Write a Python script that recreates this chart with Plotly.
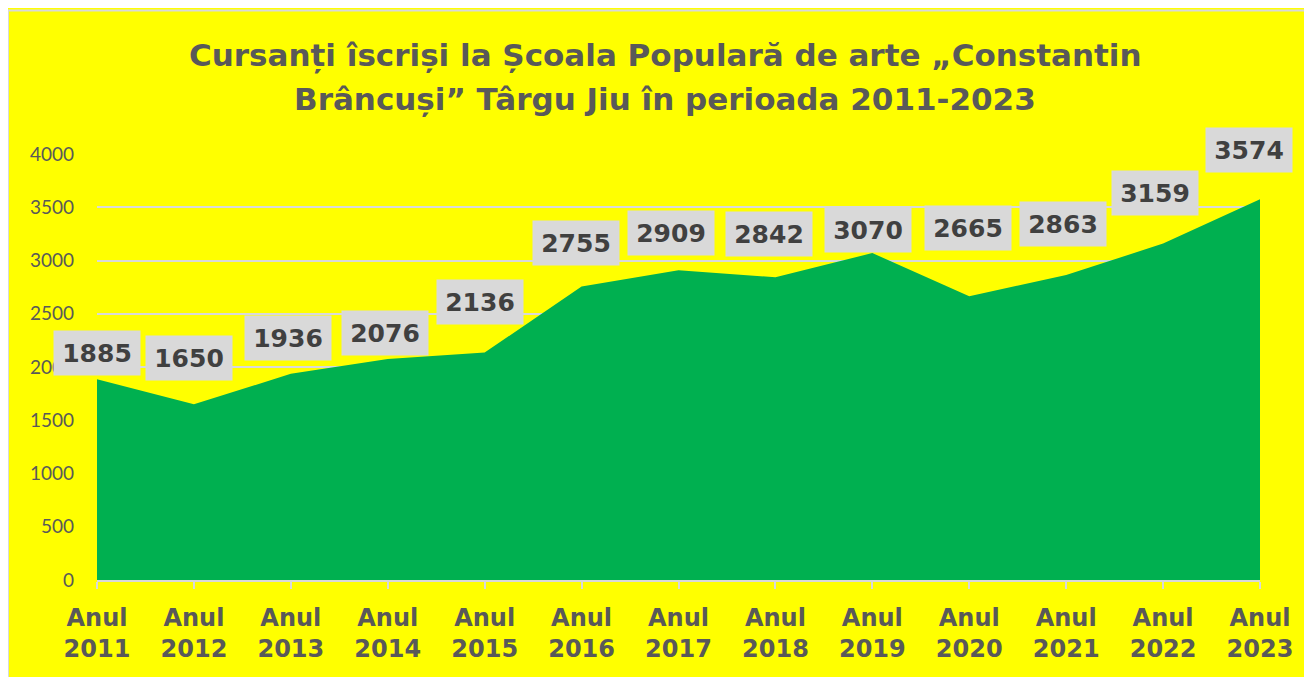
import plotly.graph_objects as go

years = ["2011", "2012", "2013", "2014", "2015", "2016", "2017",
         "2018", "2019", "2020", "2021", "2022", "2023"]
students = [1885, 1650, 1936, 2076, 2136, 2755, 2909, 2842, 3070, 2665, 2863, 3159, 3574]
y_ticks = [0, 500, 1000, 1500, 2000, 2500, 3000, 3500, 4000]
title_lines = ["Cursanți îscriși la Școala Populară de arte „Constantin",
               "Brâncuși” Târgu Jiu în perioada 2011-2023"]

categories = [f"Anul<br>{y}" for y in years]

# label offsets in pixels (manual placement as in the reference)
label_dy = [26, 46, 36, 26, 51, 44, 37, 43, 23, 68, 51, 51, 49]
label_dx = [0, -5, -3, -3, -5, -6, -8, -6, -4, -1, -3, -8, -11]

GREY = "#595959"
BOLD_FONT = "DejaVu Sans, Arial"
fig = go.Figure()
fig.add_trace(go.Scatter(
    x=categories, y=students, mode="lines", fill="tozeroy",
    fillcolor="#00B050", line=dict(color="#00B050", width=0),
    hoverinfo="skip", showlegend=False, cliponaxis=False,
))

for c, v, dy, dx in zip(categories, students, label_dy, label_dx):
    fig.add_annotation(
        x=c, y=v, text=f"<b>{v}</b>", showarrow=False,
        yshift=dy, xshift=dx, bgcolor="#D9D9D9", width=86, height=44,
        borderpad=0, align="center", valign="middle",
        font=dict(family=BOLD_FONT, size=25, color="#404040"),
    )

# page body margin is 8px; figure coordinates below are relative to figure
W, H = 1312, 677
L, R, T, B = 89, 60, 146, 105
pw, ph = W - L - R, H - T - B

def px_to_paper_x(px):
    return (px - L) / pw

def px_to_paper_y(py):
    return (H - B - py) / ph

# title, two centred lines
for line, cy in zip(title_lines, [47, 91]):
    fig.add_annotation(
        x=px_to_paper_x(657), y=px_to_paper_y(cy), xref="paper", yref="paper",
        text=f"<b>{line}</b>", showarrow=False, xanchor="center", yanchor="middle",
        font=dict(family=BOLD_FONT, size=31, color=GREY),
    )

# thin light frame on top/left edges of the chart
fig.add_shape(type="line", xref="paper", yref="paper",
              x0=px_to_paper_x(0), x1=px_to_paper_x(0),
              y0=px_to_paper_y(H), y1=px_to_paper_y(2),
              line=dict(color="#D9D9D9", width=2), layer="above")
fig.add_shape(type="line", xref="paper", yref="paper",
              x0=px_to_paper_x(0), x1=px_to_paper_x(W),
              y0=px_to_paper_y(2.5), y1=px_to_paper_y(2.5),
              line=dict(color="#D9D9D9", width=2), layer="above")

fig.update_layout(
    width=W, height=H,
    margin=dict(l=L, r=R, t=T, b=B),
    paper_bgcolor="#FFFF00", plot_bgcolor="#FFFF00",
    xaxis=dict(
        type="category", range=[0, len(categories) - 1],
        showgrid=False, showline=True, linecolor="#D9D9D9", linewidth=2,
        ticks="outside", ticklen=7, tickcolor="#D9D9D9", tickwidth=2,
        tickfont=dict(family=BOLD_FONT, size=24, color=GREY),
        ticklabelstandoff=8, zeroline=False,
    ),
    yaxis=dict(
        range=[0, 4000], tickvals=y_ticks,
        showgrid=True, gridcolor="#D9D9D9", gridwidth=2,
        zeroline=False, showline=False, ticks="",
        tickfont=dict(family="Lato, Open Sans", size=19, color=GREY),
        ticklabelstandoff=22,
    ),
)
fig.update_xaxes(tickprefix="<b>", ticksuffix="</b>")

fig.write_html("out.html")
